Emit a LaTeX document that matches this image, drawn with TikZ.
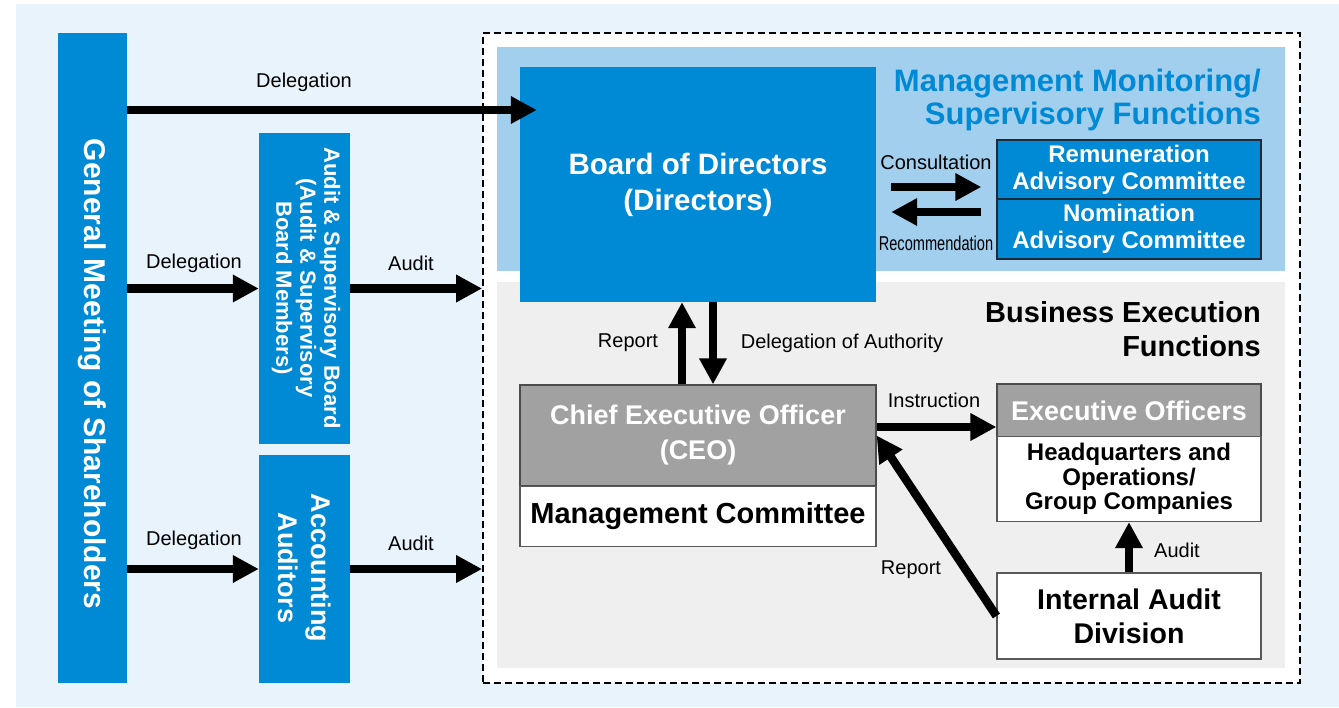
\documentclass[tikz,border=0pt]{standalone}
\usepackage{fontspec}
\setmainfont{Liberation Sans}
\newfontfamily\narrowfont[FakeStretch=0.73]{Liberation Sans}
\usetikzlibrary{arrows.meta}
\definecolor{bgblue}{HTML}{E8F3FC}
\definecolor{boxblue}{HTML}{0089D4}
\definecolor{monblue}{HTML}{A3CFEF}
\definecolor{exegray}{HTML}{EFEFEF}
\definecolor{ceogray}{HTML}{A0A1A0}
\definecolor{edge}{HTML}{1E2A38}
\tikzset{
  bigarrow/.style={-{Triangle[length=26pt,width=26pt]}, line width=8.5pt},
  box/.style={inner sep=0pt, align=center},
  bluebox/.style={box, fill=boxblue, text=white},
  whitebox/.style={box, fill=white, draw=gray!70!black, line width=1.2pt},
  lbl/.style={inner sep=0pt, font=\fontsize{20}{24}\selectfont},
  vtext/.style={rotate=-90, align=center, text=white, inner sep=0pt}
}

\begin{document}
\begin{tikzpicture}[x=1pt,y=-1pt]
    \useasboundingbox (0,0) rectangle (1339,707);
    \fill[bgblue] (16,4) rectangle (1339,707);
    \node (corp) [draw, fill=white, line width=1.8pt, dash pattern=on 7pt off 4pt,
      minimum width=817pt, minimum height=650pt] at (891.5,358) {};
    \fill[monblue] (497,47) rectangle (1285,271);
    \fill[exegray] (497,282) rectangle (1285,668);

    % left column
    \node (gm) [bluebox, minimum width=69pt, minimum height=650pt] at (92.5,357.5) {};
    \node (gmtext) [vtext, font=\bfseries\fontsize{30}{34}\selectfont] at (92,374) {General Meeting of Shareholders};
    \node (asb) [bluebox, minimum width=91pt, minimum height=311pt] at (304.5,288.5) {};
    \node (asbtext) [vtext, font=\bfseries\fontsize{22}{24}\selectfont] at (306,288) {Audit \& Supervisory Board\\(Audit \& Supervisory\\Board Members)};
    \node (aa) [bluebox, minimum width=91pt, minimum height=228pt] at (304.5,569) {};
    \node (aatext) [vtext, font=\bfseries\fontsize{27}{33}\selectfont] at (305,568) {Accounting\\Auditors};

    % monitoring
    \node (bod) [bluebox, minimum width=356pt, minimum height=235pt,
      font=\bfseries\fontsize{29.5}{36}\selectfont] at (698,184.5) {Board of Directors\\(Directors)};
    \node (montitle) [anchor=east, align=right, inner sep=0pt, text=boxblue,
      font=\bfseries\fontsize{31}{33}\selectfont] at (1261,100) {Management Monitoring/\\Supervisory Functions};
    \node (rem) [bluebox, draw=edge, line width=1.3pt, minimum width=264pt, minimum height=59pt,
      font=\bfseries\fontsize{24}{27}\selectfont] at (1129,169.5) {Remuneration\\Advisory Committee};
    \node (nom) [bluebox, draw=edge, line width=1.3pt, minimum width=264pt, minimum height=60pt,
      font=\bfseries\fontsize{24}{27}\selectfont] at (1129,229) {Nomination\\Advisory Committee};

    % execution
    \node (exetitle) [anchor=east, align=right, inner sep=0pt,
      font=\bfseries\fontsize{29}{34}\selectfont] at (1261,329) {Business Execution\\Functions};
    \node (ceo) [box, fill=ceogray, text=white, draw=gray!60!black, line width=1.2pt,
      minimum width=356pt, minimum height=101pt,
      font=\bfseries\fontsize{27}{35}\selectfont] at (698,435.5) {Chief Executive Officer\\(CEO)};
    \node (mc) [whitebox, minimum width=356pt, minimum height=60pt,
      font=\bfseries\fontsize{29}{34}\selectfont] at (698,516.5) {Management Committee};
    \node (eo) [box, fill=ceogray, text=white, draw=gray!60!black, line width=1.2pt,
      minimum width=264pt, minimum height=53pt,
      font=\bfseries\fontsize{27}{32}\selectfont] at (1129,410.5) {Executive Officers};
    \node (hq) [whitebox, minimum width=264pt, minimum height=85pt,
      font=\bfseries\fontsize{24}{24.5}\selectfont] at (1129,479) {Headquarters and\\Operations/\\Group Companies};
    \node (iad) [whitebox, minimum width=264pt, minimum height=86pt,
      font=\bfseries\fontsize{28.5}{34}\selectfont] at (1129,616) {Internal Audit\\Division};

    % labels
    \node (l1) [lbl] at (304,82) {Delegation};
    \node (l2) [lbl] at (194,263) {Delegation};
    \node (l3) [lbl] at (411,263) {Audit};
    \node (l4) [lbl] at (194,540) {Delegation};
    \node (l5) [lbl] at (411,543) {Audit};
    \node (l6) [lbl] at (936,162) {Consultation};
    \node (l7) [inner sep=0pt, font=\narrowfont\fontsize{20}{24}\selectfont] at (936,243) {Recommendation};
    \node (l8) [lbl] at (628,343) {Report};
    \node (l9) [lbl] at (842,343) {Delegation of Authority};
    \node (l10) [lbl] at (934,400) {Instruction};
    \node (l11) [lbl] at (1177,550) {Audit};
    \node (l12) [lbl] at (911,570) {Report};

    % connectors
    \coordinate (top) at (300,110);
    \coordinate (cons) at (936,187);
    \coordinate (reco) at (936,212);
    \draw[bigarrow] (gm.east |- top) -- ([xshift=17pt]bod.west |- top);
    \draw[bigarrow] (gm.east |- asb.west) -- (asb.west);
    \draw[bigarrow] (asb.east) -- (asb.east -| corp.west);
    \draw[bigarrow] (gm.east |- aa.west) -- (aa.west);
    \draw[bigarrow] (aa.east) -- (aa.east -| corp.west);
    \draw[bigarrow] ([xshift=15pt]bod.east |- cons) -- ([xshift=-15pt]rem.west |- cons);
    \draw[bigarrow] ([xshift=-15pt]rem.west |- reco) -- ([xshift=15pt]bod.east |- reco);
    \draw[bigarrow] ([xshift=-16pt]ceo.north) -- ([xshift=-16pt]bod.south);
    \draw[bigarrow] ([xshift=15pt]bod.south) -- ([xshift=15pt]ceo.north);
    \draw[bigarrow] ([yshift=8.5pt]ceo.east) -- ([yshift=8.5pt]ceo.east -| eo.west);
    \draw[bigarrow] (iad.north) -- (hq.south);
    \draw[bigarrow] (iad.west) -- (ceo.east);
\end{tikzpicture}
\end{document}
